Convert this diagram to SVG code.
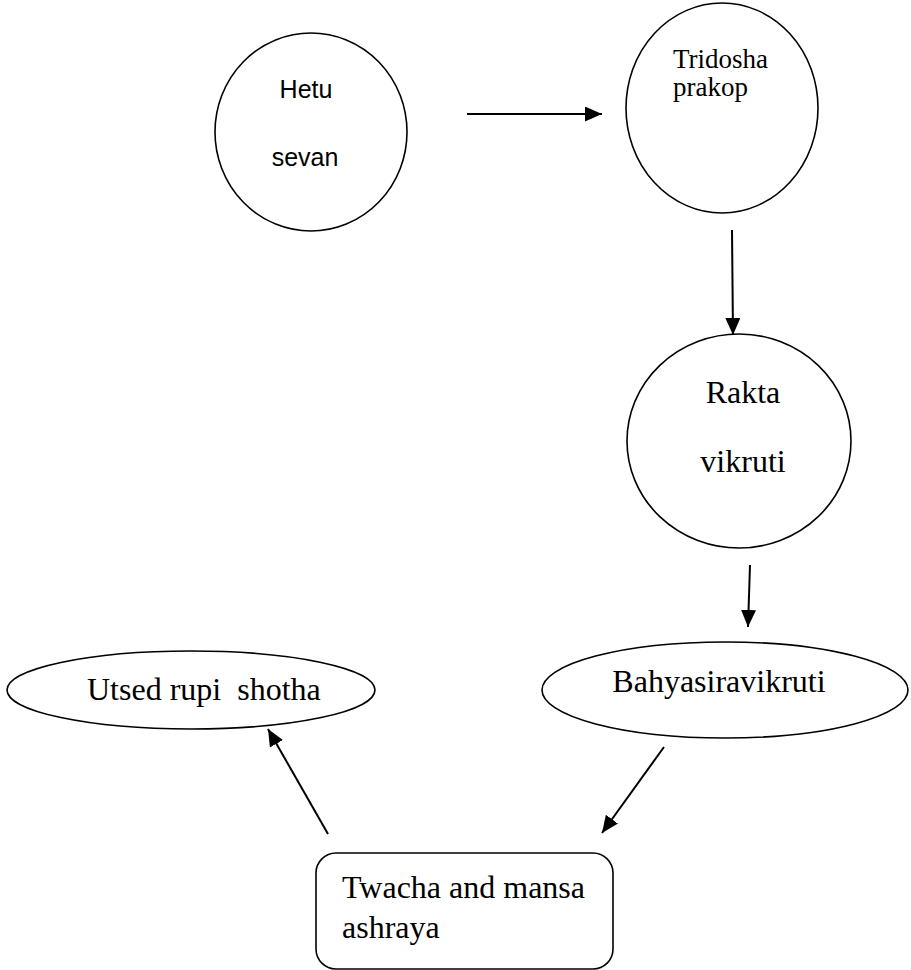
<svg xmlns="http://www.w3.org/2000/svg" width="911" height="970" viewBox="0 0 911 970">
<style>
.shape{fill:#fff;stroke:#000;stroke-width:1.6}
.serif{font-family:"Liberation Serif","Times New Roman",serif;fill:#000}
.sans{font-family:"Liberation Sans",Arial,sans-serif;fill:#000}
.conn line{stroke:#000;stroke-width:2;marker-end:url(#ah)}
</style>
<defs>
<marker id="ah" markerUnits="userSpaceOnUse" markerWidth="18" markerHeight="16" refX="17" refY="7.5" orient="auto">
<path d="M0,0 L17,7.5 L0,15 z" fill="#000"/>
</marker>
</defs>
<rect width="911" height="970" fill="#fff"/>
<g id="hetu">
<ellipse class="shape" cx="311" cy="132" rx="96" ry="99"/>
<text class="sans" x="306" y="98" font-size="25" text-anchor="middle">Hetu</text>
<text class="sans" x="305" y="166" font-size="25" text-anchor="middle">sevan</text>
</g>
<g id="tridosha">
<ellipse class="shape" cx="722" cy="108" rx="96" ry="105"/>
<text class="serif" x="673" y="68" font-size="27">Tridosha</text>
<text class="serif" x="673" y="96" font-size="27">prakop</text>
</g>
<g id="rakta">
<ellipse class="shape" cx="739" cy="441" rx="112" ry="107"/>
<text class="serif" x="743" y="403" font-size="32" text-anchor="middle">Rakta</text>
<text class="serif" x="743" y="472" font-size="32" text-anchor="middle">vikruti</text>
</g>
<g id="bahya">
<ellipse class="shape" cx="725" cy="690" rx="183" ry="48"/>
<text class="serif" x="719" y="692" font-size="32" text-anchor="middle">Bahyasiravikruti</text>
</g>
<g id="utsed">
<ellipse class="shape" cx="191" cy="690" rx="184" ry="39"/>
<text class="serif" x="87" y="700" font-size="32" xml:space="preserve">Utsed rupi  shotha</text>
</g>
<g id="twacha">
<rect class="shape" x="316" y="853" width="297" height="116" rx="20" ry="20"/>
<text class="serif" x="342" y="898" font-size="32">Twacha and mansa</text>
<text class="serif" x="342" y="938" font-size="32">ashraya</text>
</g>
<g id="connectors" class="conn">
<line x1="467" y1="114" x2="602" y2="114"/>
<line x1="732" y1="230" x2="733" y2="335"/>
<line x1="750" y1="565" x2="748" y2="627"/>
<line x1="664" y1="747" x2="602" y2="833"/>
<line x1="328" y1="834" x2="268" y2="729"/>
</g>
</svg>
